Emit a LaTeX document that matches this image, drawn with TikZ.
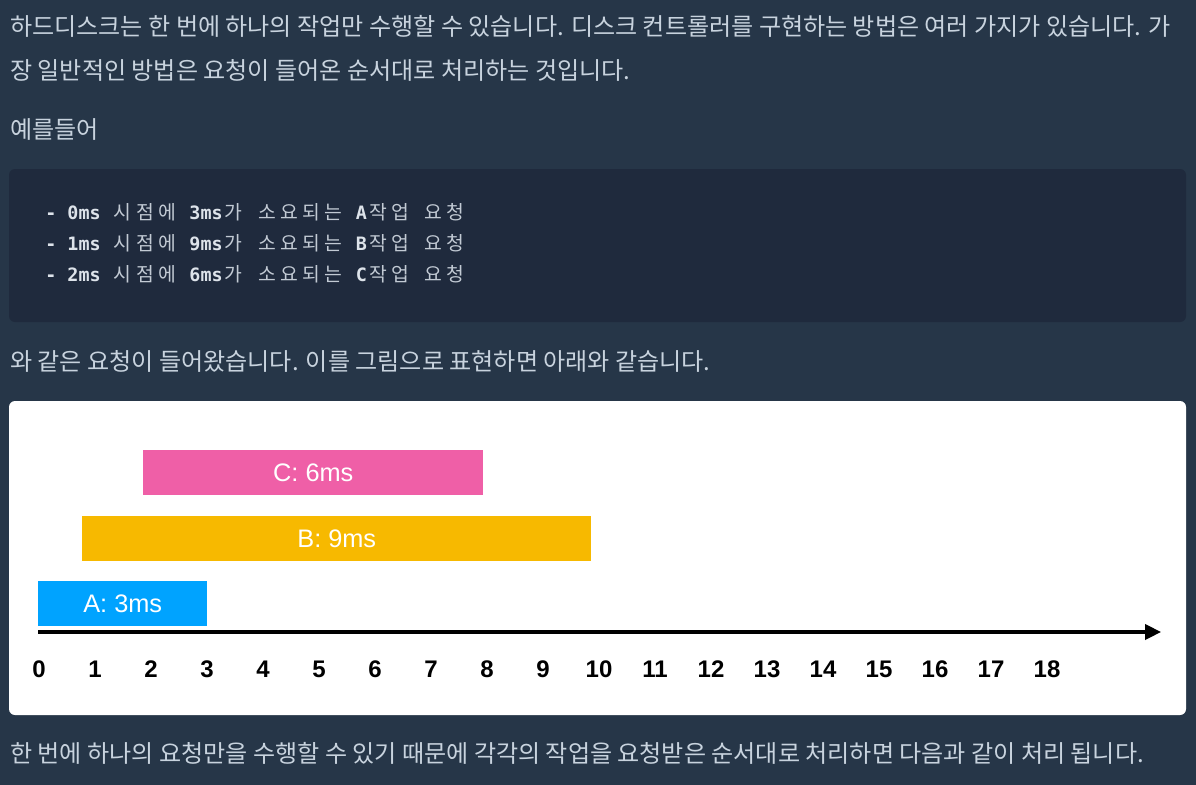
\documentclass[tikz,border=0pt]{standalone}
\usepackage{fontspec}
\usetikzlibrary{arrows.meta}
\newfontfamily\kr{Noto Sans CJK KR}[WordSpace=2.15]
\newfontfamily\codekr{Noto Sans CJK KR}
\newfontfamily\codefont{DejaVu Sans Mono}
\newfontfamily\chartfont{Liberation Sans}
\definecolor{pagebg}{HTML}{263648}
\definecolor{codebg}{HTML}{1F2A3D}
\definecolor{txt}{HTML}{C8D3DE}
\definecolor{codebold}{HTML}{DDE3EA}
\definecolor{codekrc}{HTML}{C2CAD4}
\definecolor{barA}{HTML}{00A3FF}
\definecolor{barB}{HTML}{F7B900}
\definecolor{barC}{HTML}{EF5FA7}
\newcommand\kc[1]{\makebox[16.65pt]{\color{codekrc}\codekr\fontsize{14.5}{15}\selectfont #1}}
\newcommand\cb[1]{{\color{codebold}\codefont\bfseries #1}}
\newcommand\cspace{\hspace*{8.33pt}}
\tikzset{
  body/.style={anchor=base west, inner sep=0pt, text=txt, font=\kr\fontsize{18.05}{18}\selectfont},
  codeline/.style={anchor=base west, inner sep=0pt, font=\codefont\fontsize{13.8}{14}\selectfont},
  bar/.style={anchor=north west, inner sep=0pt, minimum height=33.75pt, text=white, font=\chartfont\fontsize{19}{19}\selectfont},
  ticklabel/.style={anchor=base, inner sep=0pt, text=black, font=\chartfont\bfseries\fontsize{18}{18}\selectfont},
  axis/.style={line width=2.3pt, -{Triangle[length=12pt,width=11.5pt]}}
}
\begin{document}
\begin{tikzpicture}[x=0.75pt,y=-0.75pt]
\fill[pagebg] (0,0) rectangle (1196,785);
\useasboundingbox (0,0) rectangle (1196,785);
% paragraph 1
\node[body] (p1a) at (10,35) {하드디스크는 한 번에 하나의 작업만 수행할 수 있습니다. 디스크 컨트롤러를 구현하는 방법은 여러 가지가 있습니다. 가};
\node[body] (p1b) at (10,79) {장 일반적인 방법은 요청이 들어온 순서대로 처리하는 것입니다.};
\node[body] (p2) at (10,138) {예를들어};
% code block
\fill[codebg, rounded corners=4.5pt] (9,169) rectangle (1186,322);
\node[codeline] (c1) at (45,219) {\cb{-}\cspace\cb{0ms}\cspace\kc{시}\kc{점}\kc{에}\cspace\cb{3ms}\kc{가}\cspace\kc{소}\kc{요}\kc{되}\kc{는}\cspace\cb{A}\kc{작}\kc{업}\cspace\kc{요}\kc{청}};
\node[codeline] (c2) at (45,250) {\cb{-}\cspace\cb{1ms}\cspace\kc{시}\kc{점}\kc{에}\cspace\cb{9ms}\kc{가}\cspace\kc{소}\kc{요}\kc{되}\kc{는}\cspace\cb{B}\kc{작}\kc{업}\cspace\kc{요}\kc{청}};
\node[codeline] (c3) at (45,281) {\cb{-}\cspace\cb{2ms}\cspace\kc{시}\kc{점}\kc{에}\cspace\cb{6ms}\kc{가}\cspace\kc{소}\kc{요}\kc{되}\kc{는}\cspace\cb{C}\kc{작}\kc{업}\cspace\kc{요}\kc{청}};
\node[body] (p3) at (10,370) {와 같은 요청이 들어왔습니다. 이를 그림으로 표현하면 아래와 같습니다.};
% chart panel
\fill[white, rounded corners=4.5pt] (9,401) rectangle (1186,715);
\node[bar, fill=barC, minimum width=255pt] (C) at (143,450) {C: 6ms};
\node[bar, fill=barB, minimum width=381.75pt] (B) at (82,516) {B: 9ms};
\node[bar, fill=barA, minimum width=126.75pt] (A) at (38,581) {A: 3ms};
\coordinate (axstart) at (38,632);
\coordinate (axend) at (1161,632);
\draw[axis] (axstart) -- (axend);
\foreach \i in {0,...,18} {
  \node[ticklabel] (t\i) at (39+56*\i,677) {\i};
}
\node[body] (p4) at (10,762) {한 번에 하나의 요청만을 수행할 수 있기 때문에 각각의 작업을 요청받은 순서대로 처리하면 다음과 같이 처리 됩니다.};
\end{tikzpicture}
\end{document}
